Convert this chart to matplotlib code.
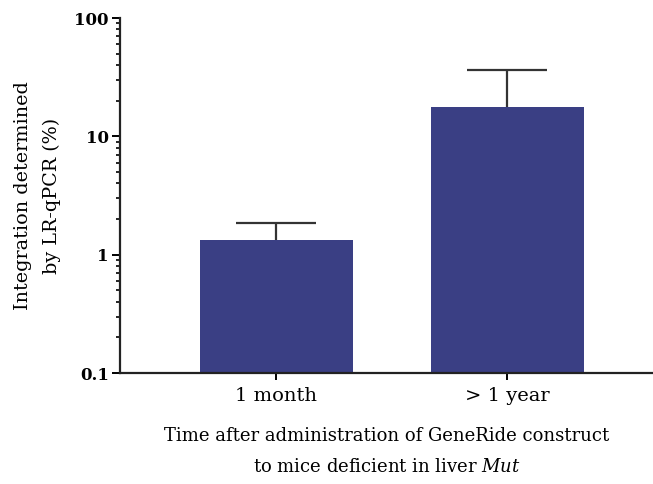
import matplotlib.pyplot as plt
import numpy as np

categories = ["1 month", "> 1 year"]
values = [1.34, 17.8]
err_upper = [1.86, 36.6]

plt.rcParams['font.family'] = ['DejaVu Serif']
plt.rcParams['mathtext.fontset'] = 'dejavuserif'

fig = plt.figure(figsize=(6.53, 4.84), dpi=100)
ax = fig.add_axes([0.1838, 0.2293, 0.8162, 0.7335])

x = np.arange(len(categories))
yerr = np.array(err_upper) - np.array(values)
ax.bar(x, values, width=0.66, color="#3a3f84")
# only the upper half of the error bar is shown
eb = ax.errorbar(x, values, yerr=[np.zeros_like(yerr), yerr], fmt="none",
                 ecolor="#333333", elinewidth=1.6, capsize=29, capthick=1.6)
eb[1][0].set_visible(False)

ax.set_yscale("log")
ax.set_ylim(0.1, 100)
ax.set_xlim(-0.677, 1.63)
ax.set_yticks([0.1, 1, 10, 100])
ax.set_yticklabels(["0.1", "1", "10", "100"], fontsize=12, fontweight="bold")
ax.set_xticks(x)
ax.set_xticklabels(categories, fontsize=14)

for s in ["top", "right"]:
    ax.spines[s].set_visible(False)
for s in ["left", "bottom"]:
    ax.spines[s].set_linewidth(1.6)
    ax.spines[s].set_color("#222222")
ax.tick_params(axis="y", which="major", length=6, width=1.4, direction="out", pad=2)
ax.tick_params(axis="y", which="minor", length=3, width=1.2, direction="out")
ax.tick_params(axis="x", length=5, width=1.4, direction="out", pad=5)

ax.set_ylabel("Integration determined\nby LR-qPCR (%)", fontsize=13.8, labelpad=10,
              linespacing=1.75)
ax.set_xlabel("Time after administration of GeneRide construct\nto mice deficient in liver $\\mathit{Mut}$",
              fontsize=13, labelpad=16, linespacing=1.95)

fig.savefig("out.png", dpi=100)
